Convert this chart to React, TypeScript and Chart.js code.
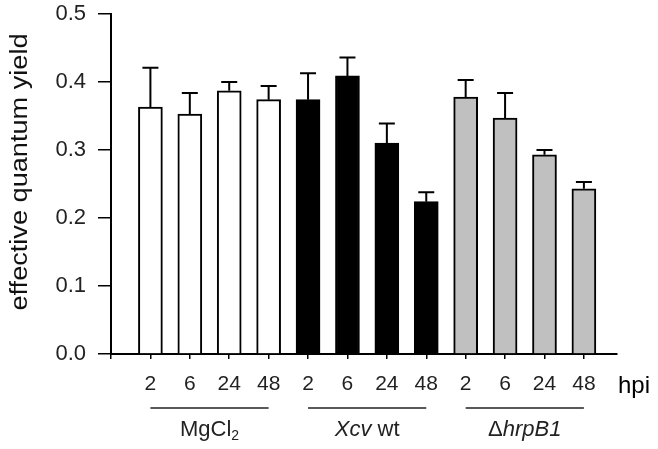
import React, { useEffect, useRef } from 'react';
import { Chart, registerables } from 'chart.js';
Chart.register(...registerables);

// ---- data ----
const hpiLabels = ['2', '6', '24', '48'];
const groupNames = ['MgCl2', 'Xcv wt', 'ΔhrpB1'];
const mgcl2Values = [0.363, 0.353, 0.387, 0.374];
const mgcl2Errors = [0.058, 0.031, 0.013, 0.02];
const xcvValues = [0.374, 0.409, 0.31, 0.224];
const xcvErrors = [0.039, 0.027, 0.029, 0.014];
const hrpValues = [0.378, 0.347, 0.293, 0.243];
const hrpErrors = [0.025, 0.037, 0.007, 0.01];
const yTitle = 'effective quantum yield';
const unitLabel = 'hpi';

// rich-text rendering of the group names (subscript / italic parts)
const groupSegments = [
  [{ t: 'MgCl' }, { t: '2', sub: true }],
  [{ t: 'Xcv', it: true }, { t: ' wt' }],
  [{ t: 'Δ' }, { t: 'hrpB1', it: true }],
];

const FONT = '"Liberation Sans", Arial, sans-serif';
const fills = ['#ffffff', '#000000', '#c0c0c0'];

const seriesValues = [mgcl2Values, xcvValues, hrpValues];
const seriesErrors = [mgcl2Errors, xcvErrors, hrpErrors];

const errorBarPlugin = {
  id: 'errorBars',
  afterDatasetsDraw(chart: any) {
    const ctx = chart.ctx;
    const ys = chart.scales.y;
    ctx.save();
    ctx.strokeStyle = '#000';
    ctx.lineWidth = 2;
    chart.data.datasets.forEach((ds: any, di: number) => {
      const meta = chart.getDatasetMeta(di);
      meta.data.forEach((el: any, i: number) => {
        const v = ds.data[i].y;
        const e = ds.errors[i];
        const yTop = ys.getPixelForValue(v + e);
        ctx.beginPath();
        ctx.moveTo(el.x, el.y);
        ctx.lineTo(el.x, yTop);
        ctx.moveTo(el.x - 8, yTop);
        ctx.lineTo(el.x + 8, yTop);
        ctx.stroke();
      });
    });
    ctx.restore();
  },
};

function drawSegments(ctx: any, segs: any[], cx: number, baseline: number, size: number) {
  const fontFor = (s: any) => `${s.it ? 'italic ' : ''}${s.sub ? Math.round(size * 0.65) : size}px ${FONT}`;
  let total = 0;
  segs.forEach((s) => {
    ctx.font = fontFor(s);
    total += ctx.measureText(s.t).width;
  });
  let x = cx - total / 2;
  segs.forEach((s) => {
    ctx.font = fontFor(s);
    ctx.fillText(s.t, x, baseline + (s.sub ? 4 : 0));
    x += ctx.measureText(s.t).width;
  });
}

const labelsPlugin = {
  id: 'groupLabels',
  afterDraw(chart: any) {
    const ctx = chart.ctx;
    const xs = chart.scales.x;
    ctx.save();
    groupNames.forEach((name, g) => {
      const x1 = xs.getPixelForValue(g * hpiLabels.length + 1);
      const x2 = xs.getPixelForValue(g * hpiLabels.length + hpiLabels.length);
      ctx.strokeStyle = '#222';
      ctx.lineWidth = 1.5;
      ctx.beginPath();
      ctx.moveTo(x1, 408);
      ctx.lineTo(x2, 408);
      ctx.stroke();
      ctx.fillStyle = '#222';
      ctx.textAlign = 'left';
      ctx.textBaseline = 'alphabetic';
      drawSegments(ctx, groupSegments[g], (x1 + x2) / 2, 436, 22);
    });
    ctx.fillStyle = '#000';
    ctx.font = `24px ${FONT}`;
    ctx.textAlign = 'left';
    ctx.textBaseline = 'alphabetic';
    ctx.fillText(unitLabel, 618, 393);
    ctx.translate(21, 172);
    ctx.rotate(-Math.PI / 2);
    ctx.scale(1.18, 1);
    ctx.font = `23px ${FONT}`;
    ctx.fillStyle = '#111';
    ctx.textAlign = 'center';
    ctx.textBaseline = 'middle';
    ctx.fillText(yTitle, 0, 0);
    ctx.restore();
  },
};

export default function App() {
  const ref = useRef<HTMLCanvasElement>(null);
  useEffect(() => {
    document.body.style.margin = '0';
    const nPerGroup = hpiLabels.length;
    const datasets = seriesValues.map((vals, g) => ({
      label: groupNames[g],
      data: vals.map((v, i) => ({ x: g * nPerGroup + i + 1, y: v })),
      errors: seriesErrors[g],
      backgroundColor: fills[g],
      borderColor: '#000',
      borderWidth: 2,
      borderSkipped: 'bottom',
      barThickness: 24,
      grouped: false,
    }));
    const chart = new Chart(ref.current!, {
      type: 'bar',
      data: { datasets } as any,
      options: {
        animation: false,
        responsive: false,
        maintainAspectRatio: false,
        devicePixelRatio: 1,
        layout: { padding: { top: 14, right: 41, left: 0, bottom: 0 } },
        plugins: { legend: { display: false }, tooltip: { enabled: false }, title: { display: false } },
        scales: {
          x: {
            type: 'linear',
            min: 0,
            max: 12.84,
            offset: false,
            afterBuildTicks: (s: any) => {
              const t = [];
              for (let i = 0; i <= groupNames.length * nPerGroup; i++) t.push({ value: i });
              s.ticks = t;
            },
            afterFit: (s: any) => { s.height = 95; s.paddingLeft = 0; s.paddingRight = 0; },
            ticks: {
              autoSkip: false,
              maxRotation: 0,
              padding: 13,
              color: '#222',
              font: { family: FONT, size: 21 },
              callback: (v: any) => (v >= 1 ? hpiLabels[(v - 1) % nPerGroup] : ''),
            },
            grid: { offset: false, drawOnChartArea: false, tickLength: 5, color: '#000', lineWidth: 1.5 },
            border: { display: true, color: '#000', width: 2 },
          },
          y: {
            min: 0,
            max: 0.5,
            afterFit: (s: any) => { s.width = 111; s.paddingTop = 0; s.paddingBottom = 0; },
            ticks: {
              stepSize: 0.1,
              padding: 12,
              color: '#222',
              font: { family: FONT, size: 22 },
              callback: (v: any) => Number(v).toFixed(1),
            },
            grid: { drawOnChartArea: false, tickLength: 13, color: '#000', lineWidth: 1.5 },
            border: { display: true, color: '#000', width: 2 },
          },
        },
      } as any,
      plugins: [errorBarPlugin, labelsPlugin],
    });
    return () => chart.destroy();
  }, []);
  return (
    <div style={{ position: 'absolute', left: 0, top: 0, width: 658, height: 449, background: '#fff' }}>
      <canvas ref={ref} width={658} height={449} />
    </div>
  );
}
